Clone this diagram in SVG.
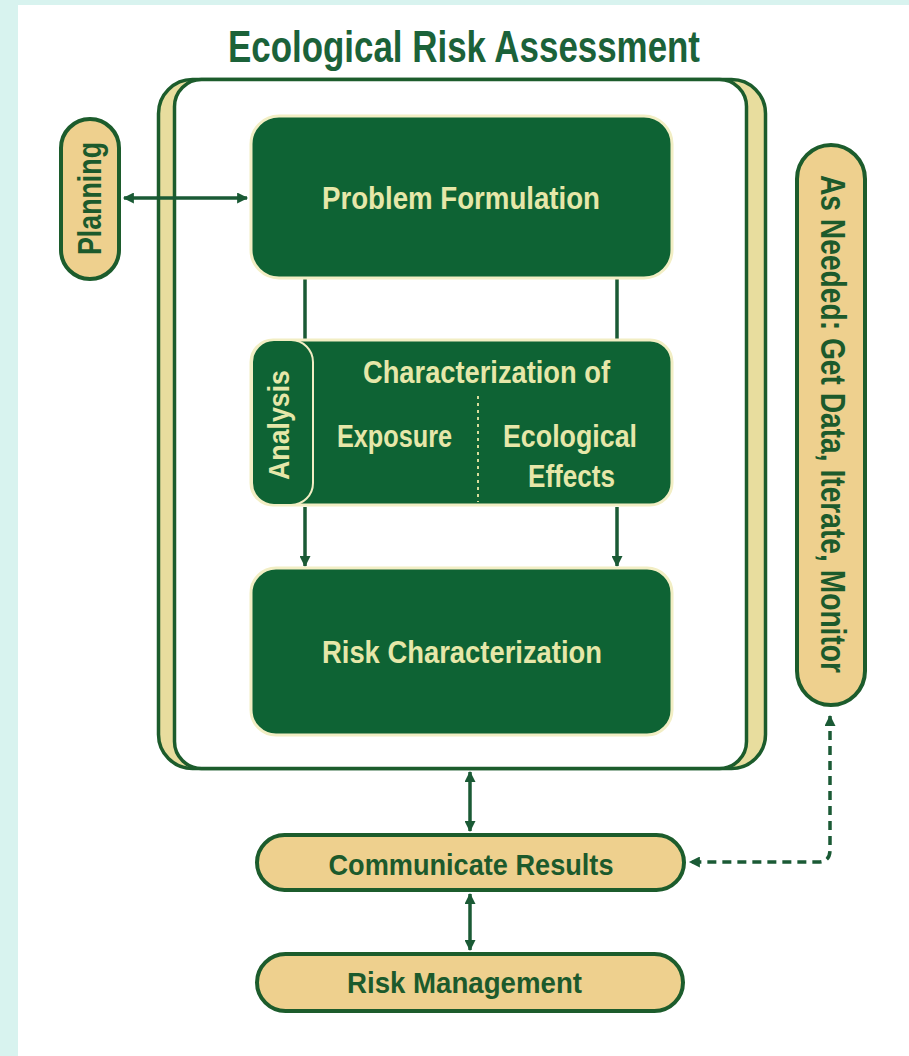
<svg xmlns="http://www.w3.org/2000/svg" width="909" height="1056" viewBox="0 0 909 1056">
<defs>
<marker id="ah" viewBox="0 0 10 10" refX="9" refY="5" markerWidth="12" markerHeight="11" markerUnits="userSpaceOnUse" orient="auto-start-reverse">
<path d="M0,0 L10,5 L0,10 z" fill="#1a5a35"/>
</marker>
<style>
.box{fill:#0e6334;stroke:#f2eec4;stroke-width:3}
.pill{fill:#eed08e;stroke:#1c5c2c;stroke-width:4}
.lt{font-family:"Liberation Sans",Arial,sans-serif;font-weight:bold;fill:#e6e7a9;font-size:32px}
.dk{font-family:"Liberation Sans",Arial,sans-serif;font-weight:bold;fill:#1c5a2c;font-size:30px}
.ln{stroke:#1a5a35;stroke-width:3.5;fill:none}
</style>
</defs>
<rect x="0" y="0" width="909" height="1056" fill="#ffffff"/>
<rect x="0" y="0" width="909" height="5" fill="#d8f3ef"/>
<rect x="0" y="0" width="18" height="1056" fill="#d8f3ef"/>

<text x="464" y="62" text-anchor="middle" textLength="472" lengthAdjust="spacingAndGlyphs" style="font-family:'Liberation Sans',Arial,sans-serif;font-weight:bold;font-size:45px;fill:#1b6239">Ecological Risk Assessment</text>

<g id="frame">
<rect x="158.5" y="79.5" width="607" height="689" rx="34" fill="#e8dd9e" stroke="#1c5c2c" stroke-width="3.5"/>
<rect x="174.5" y="79.5" width="572" height="689" rx="27" fill="#ffffff" stroke="#1c5c2c" stroke-width="3.5"/>
</g>

<g id="connectors">
<path class="ln" d="M124,198 L247,198" marker-start="url(#ah)" marker-end="url(#ah)"/>
<path class="ln" d="M305,279 L305,339"/>
<path class="ln" d="M617,279 L617,339"/>
<path class="ln" d="M305,507 L305,566" marker-end="url(#ah)"/>
<path class="ln" d="M617,507 L617,566" marker-end="url(#ah)"/>
<path class="ln" d="M470,772 L470,831" marker-start="url(#ah)" marker-end="url(#ah)"/>
<path class="ln" d="M470,894 L470,950" marker-start="url(#ah)" marker-end="url(#ah)"/>
<path class="ln" d="M830,716 L830,850 Q830,862 818,862 L690,862" stroke-dasharray="9 6" marker-start="url(#ah)" marker-end="url(#ah)"/>
</g>

<g id="planning">
<rect class="pill" x="61" y="119" width="58" height="160" rx="29"/>
<text class="dk" transform="translate(101,198.5) rotate(-90)" x="0" y="0" text-anchor="middle" textLength="113" lengthAdjust="spacingAndGlyphs" style="font-size:33px">Planning</text>
</g>

<g id="problem-formulation">
<rect class="box" x="251" y="116" width="421" height="162" rx="28"/>
<text class="lt" x="461" y="209" text-anchor="middle" textLength="278" lengthAdjust="spacingAndGlyphs">Problem Formulation</text>
</g>

<g id="analysis">
<rect class="box" x="251" y="340" width="421" height="165" rx="22"/>
<rect x="252" y="340" width="61" height="165" rx="22" fill="#0e6334" stroke="#f2eec4" stroke-width="2"/>
<text class="lt" transform="translate(289,425) rotate(-90)" x="0" y="0" text-anchor="middle" textLength="110" lengthAdjust="spacingAndGlyphs" style="font-size:30px">Analysis</text>
<text class="lt" x="486.5" y="383" text-anchor="middle" textLength="247" lengthAdjust="spacingAndGlyphs">Characterization of</text>
<text class="lt" x="394.5" y="447" text-anchor="middle" textLength="115" lengthAdjust="spacingAndGlyphs">Exposure</text>
<text class="lt" x="570" y="447" text-anchor="middle" textLength="134" lengthAdjust="spacingAndGlyphs">Ecological</text>
<text class="lt" x="571.5" y="487" text-anchor="middle" textLength="87" lengthAdjust="spacingAndGlyphs">Effects</text>
<line x1="478" y1="396" x2="478" y2="502" stroke="#d8dc9c" stroke-width="2" stroke-dasharray="3 4"/>
</g>

<g id="risk-characterization">
<rect class="box" x="251" y="568" width="421" height="167" rx="25"/>
<text class="lt" x="462" y="663" text-anchor="middle" textLength="280" lengthAdjust="spacingAndGlyphs">Risk Characterization</text>
</g>

<g id="as-needed">
<rect class="pill" x="797" y="145" width="68" height="560" rx="34"/>
<text class="dk" transform="translate(821,424) rotate(90)" x="0" y="0" text-anchor="middle" textLength="498" lengthAdjust="spacingAndGlyphs" style="font-size:35px">As Needed: Get Data, Iterate, Monitor</text>
</g>

<g id="communicate-results">
<rect class="pill" x="257" y="835" width="427" height="55" rx="27.5"/>
<text class="dk" x="471" y="875" text-anchor="middle" textLength="285" lengthAdjust="spacingAndGlyphs">Communicate Results</text>
</g>

<g id="risk-management">
<rect class="pill" x="257" y="954" width="426" height="57" rx="28.5"/>
<text class="dk" x="464.5" y="993" text-anchor="middle" textLength="235" lengthAdjust="spacingAndGlyphs">Risk Management</text>
</g>
</svg>
